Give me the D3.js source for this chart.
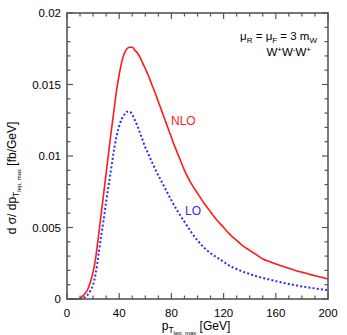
<!DOCTYPE html>
<html><head><meta charset="utf-8">
<script src="https://cdn.jsdelivr.net/npm/d3@7/dist/d3.min.js"></script>
<style>body{margin:0;background:#fff}svg{display:block}text{font-family:"Liberation Sans",Arial,sans-serif}</style>
</head><body><svg id="c" width="347" height="335"></svg>
<script>
const nloX=[0,8,10,12,14,16,18,20,22,24,26,28,30,32,34,36,38,40,42,44,46,48,50,52,54,56,58,60,62,65,68,70,74,78,82,86,90,95,100,105,110,115,120,125,130,135,140,145,150,155,160,165,170,175,180,185,190,195,200];
const nloY=[0,0,0.00005,0.0002,0.0004,0.0007,0.0012,0.0019,0.0029,0.0043,0.0058,0.0073,0.0088,0.0103,0.0118,0.0132,0.0146,0.0157,0.0166,0.0172,0.0175,0.0176,0.0176,0.0174,0.0172,0.0169,0.0165,0.0161,0.0157,0.0150,0.0143,0.0138,0.0128,0.0118,0.0108,0.0099,0.0090,0.0081,0.0074,0.0067,0.0061,0.0055,0.0050,0.0045,0.0041,0.0037,0.0034,0.0031,0.0028,0.00262,0.00245,0.0023,0.00215,0.0020,0.00188,0.00175,0.00163,0.00152,0.0014];
const loX=[0,10,12,14,16,18,20,22,24,26,28,30,32,34,36,38,40,42,44,46,48,50,52,54,56,58,60,62,64,66,68,72,76,80,85,90,95,100,105,110,115,120,125,130,135,140,145,150,155,160,170,180,190,200];
const loY=[0,0,0.00005,0.00015,0.0003,0.0006,0.0010,0.0018,0.0030,0.0043,0.0055,0.0068,0.0080,0.0092,0.0104,0.0114,0.0121,0.0126,0.0129,0.0131,0.0131,0.0129,0.0125,0.0121,0.0116,0.0111,0.0106,0.0102,0.0098,0.0094,0.0090,0.0083,0.0076,0.0069,0.0061,0.0054,0.0047,0.0041,0.0036,0.0032,0.0029,0.0026,0.0023,0.0021,0.0019,0.00175,0.0016,0.00148,0.00136,0.00125,0.00105,0.00088,0.00074,0.00062];
const xTicks=[0,40,80,120,160,200];
const yTicks=[0,0.005,0.01,0.015,0.02];

const svg=d3.select("#c");
const L=67,R=328,T=13,B=299;
const x=d3.scaleLinear().domain([0,200]).range([L,R]);
const y=d3.scaleLinear().domain([0,0.02]).range([B,T]);
const ax="#555";

const line=d3.line().x(d=>x(d[0])).y(d=>y(d[1])).curve(d3.curveMonotoneX);
const g=svg.append("g");
g.append("path").datum(loX.map((v,i)=>[v,loY[i]])).attr("d",line)
 .attr("fill","none").attr("stroke","#2a2aff").attr("stroke-width",2).attr("stroke-dasharray","2,2.2");
g.append("path").datum(nloX.map((v,i)=>[v,nloY[i]])).attr("d",line)
 .attr("fill","none").attr("stroke","#ff1a1a").attr("stroke-width",1.6);

const minorX=d3.range(0,201,10), minorY=d3.range(0,21).map(v=>v*0.001);
function tickLen(isMajor){return isMajor?6:3.5;}
minorX.forEach(v=>{
  const maj=v%40===0, l=tickLen(maj);
  svg.append("line").attr("x1",x(v)).attr("x2",x(v)).attr("y1",B).attr("y2",B-l).attr("stroke",ax).attr("stroke-width",1.2);
  svg.append("line").attr("x1",x(v)).attr("x2",x(v)).attr("y1",T).attr("y2",T+l).attr("stroke",ax).attr("stroke-width",1.2);
});
minorY.forEach((v,i)=>{
  const maj=i%5===0, l=tickLen(maj);
  svg.append("line").attr("y1",y(v)).attr("y2",y(v)).attr("x1",L).attr("x2",L+l).attr("stroke",ax).attr("stroke-width",1.2);
  svg.append("line").attr("y1",y(v)).attr("y2",y(v)).attr("x1",R).attr("x2",R-l).attr("stroke",ax).attr("stroke-width",1.2);
});
svg.append("rect").attr("x",L).attr("y",T).attr("width",R-L).attr("height",B-T).attr("fill","none").attr("stroke",ax).attr("stroke-width",1.6);

const fs=11.5;
xTicks.forEach(v=>svg.append("text").attr("x",x(v)).attr("y",B+18).attr("text-anchor","middle").attr("font-size",fs).text(v));
yTicks.forEach(v=>svg.append("text").attr("x",L-6).attr("y",y(v)+4).attr("text-anchor","end").attr("font-size",fs).text(v===0?"0":String(v)));

const xt=svg.append("text").attr("x",196).attr("y",330).attr("text-anchor","middle").attr("font-size",12);
xt.append("tspan").text("p");
xt.append("tspan").attr("font-size",8.5).attr("dy",3).text("T");
xt.append("tspan").attr("font-size",6).attr("dy",1.5).text("lep, max");
xt.append("tspan").attr("dy",-4.5).text(" [GeV]");

const yt=svg.append("text").attr("transform","translate(16,178) rotate(-90)").attr("text-anchor","middle").attr("font-size",12);
yt.append("tspan").text("d σ/ dp");
yt.append("tspan").attr("font-size",8.5).attr("dy",3).text("T");
yt.append("tspan").attr("font-size",6).attr("dy",2).text("lep, max");
yt.append("tspan").attr("dy",-5).text(" [fb/GeV]");

svg.append("text").attr("x",171).attr("y",125).attr("font-size",12).attr("fill","#ff1a1a").text("NLO");
svg.append("text").attr("x",185).attr("y",215).attr("font-size",12).attr("fill","#2a2aff").text("LO");

const t1=svg.append("text").attr("x",317).attr("y",40).attr("text-anchor","end").attr("font-size",11.5);
t1.append("tspan").text("μ");
t1.append("tspan").attr("font-size",8).attr("dy",3).text("R");
t1.append("tspan").attr("dy",-3).text(" = μ");
t1.append("tspan").attr("font-size",8).attr("dy",3).text("F");
t1.append("tspan").attr("dy",-3).text(" = 3 m");
t1.append("tspan").attr("font-size",8).attr("dy",3).text("W");
const t2=svg.append("text").attr("x",311).attr("y",56).attr("text-anchor","end").attr("font-size",11.5);
t2.append("tspan").text("W");
t2.append("tspan").attr("font-size",8).attr("dy",-4).text("+");
t2.append("tspan").attr("dy",4).text("W");
t2.append("tspan").attr("font-size",8).attr("dy",-4).text("-");
t2.append("tspan").attr("dy",4).text("W");
t2.append("tspan").attr("font-size",8).attr("dy",-4).text("+");
</script></body></html>
